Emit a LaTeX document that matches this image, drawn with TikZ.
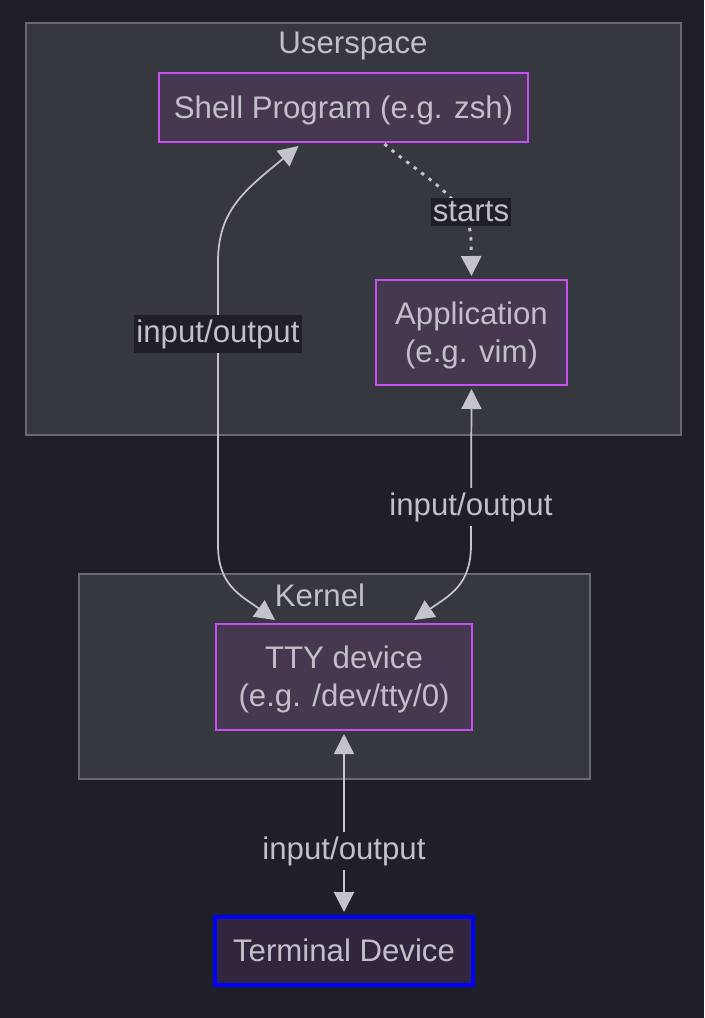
\documentclass[tikz,border=0pt]{standalone}
\usepackage{fontspec}
\setmainfont{Liberation Sans}
\usetikzlibrary{arrows.meta,calc}
\definecolor{pagebg}{HTML}{1F2027}
\definecolor{clusterbg}{HTML}{363840}
\definecolor{clusterline}{HTML}{676A70}
\definecolor{nodebg}{HTML}{463850}
\definecolor{nodeline}{HTML}{C850F0}
\definecolor{termbg}{HTML}{32263E}
\definecolor{termline}{HTML}{0000FF}
\definecolor{txt}{HTML}{C2BFCA}
\definecolor{edge}{HTML}{C4C4CA}
\begin{document}
\begin{tikzpicture}[x=0.75pt,y=-0.75pt,
  font=\fontsize{23.4}{28.5}\selectfont,
  every node/.style={text=txt},
  cluster/.style={draw=clusterline,fill=clusterbg,line width=1.1pt},
  proc/.style={draw=nodeline,fill=nodebg,line width=1.5pt,inner sep=0pt,align=center,text depth=1pt},
  term/.style={draw=termline,fill=termbg,line width=3pt,inner sep=0pt,align=center,text depth=1pt},
  conn/.style={draw=edge,line width=1.3pt},
  tip/.style={-{Triangle[length=15pt,width=15pt,fill=edge]}},
  both/.style={{Triangle[length=15pt,width=15pt,fill=edge]}-{Triangle[length=15pt,width=15pt,fill=edge]}},
  lbl/.style={fill=pagebg,inner xsep=1.5pt,inner ysep=3pt}
]
\useasboundingbox (0,0) rectangle (704,1018);
\fill[pagebg] (0,0) rectangle (704,1018);
% clusters
\draw[cluster] (26,23) rectangle (681,435);
\node (userspace) at (353,46) {Userspace};
\draw[cluster] (79,574) rectangle (590,779);
\node (kernel) at (320,595) {Kernel};
% nodes
\node[proc,minimum width=276.75pt,minimum height=51.75pt] (shell) at (343.5,107.5) {Shell Program (e.g. zsh)};
\node[proc,minimum width=143.25pt,minimum height=78.75pt] (app) at (471.5,332.5) {Application\\(e.g. vim)};
\node[proc,minimum width=192pt,minimum height=79.5pt] (tty) at (344,677) {TTY device\\(e.g. /dev/tty/0)};
\node[term,minimum width=193.5pt,minimum height=51pt] (termdev) at (344,951) {Terminal Device};
% coordinates
\coordinate (s1) at ($(shell.south)+(-45,3)$);
\coordinate (t1) at ($(tty.north)+(-69,-3)$);
\coordinate (s2) at ($(shell.south)+(41,1)$);
\coordinate (a1) at ($(app.north)+(0,-3)$);
\coordinate (a2) at ($(app.south)+(0,3)$);
\coordinate (t2) at ($(tty.north)+(70,-3)$);
\coordinate (t3) at ($(tty.south)+(0,3)$);
\coordinate (d1) at ($(termdev.north)+(0,-3)$);
% edges
\draw[conn,both] (s1) .. controls (245,190) and (218,210) .. (218,262) -- (218,545) .. controls (218,585) and (240,595) .. (t1);
\node[lbl] (l1) at (218,334) {input/output};
\draw[conn,tip,dash pattern=on 2.5pt off 4.5pt,line width=2.2pt] (s2) .. controls (420,175) and (471,200) .. (471,240) -- (a1);
\node[lbl] (l2) at (471,212) {starts};
\draw[conn,both] (a2) -- (471,545) .. controls (471,585) and (450,595) .. (t2);
\node[lbl] (l3) at (471,507) {input/output};
\draw[conn,both] (t3) -- (d1);
\node[lbl] (l4) at (344,851) {input/output};
\end{tikzpicture}
\end{document}
